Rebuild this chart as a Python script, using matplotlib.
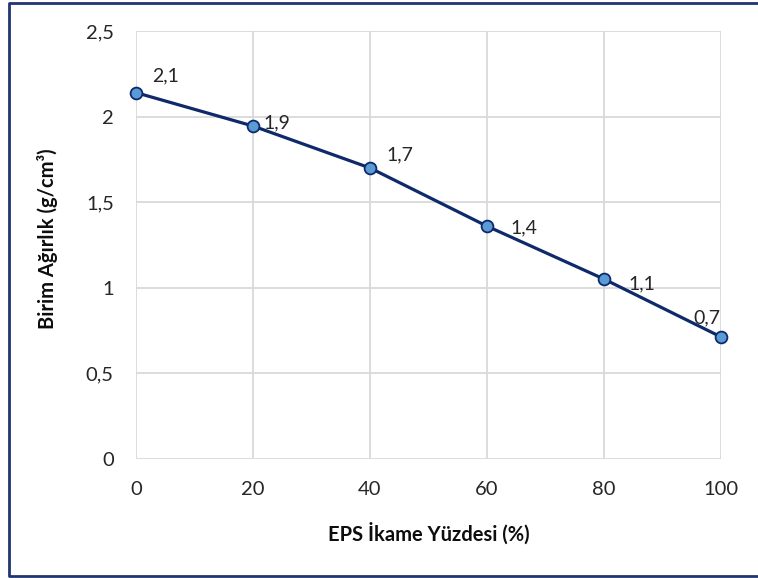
import matplotlib.pyplot as plt
from matplotlib.lines import Line2D

plt.rcParams['font.family'] = ['Lato', 'DejaVu Sans']

eps_pct = [0, 20, 40, 60, 80, 100]
unit_weight = [2.14, 1.945, 1.70, 1.36, 1.051, 0.713]
x_ticks = [0, 20, 40, 60, 80, 100]
y_ticks = [0, 0.5, 1, 1.5, 2, 2.5]

# label offsets in pixels (dx, dy) from each point, as placed in the original
label_offsets = [(16, 17), (10, 3), (16, 13), (23, -2), (24, -5), (-28, 19)]

fig = plt.figure(figsize=(7.58, 5.78), dpi=100)
ax = fig.add_axes([136 / 758, 119 / 578, 585 / 758, 428 / 578])

ax.plot(eps_pct, unit_weight, color='#0E2A6B', lw=2.3, marker='o', ms=8.5,
        mfc='#5B9BD5', mec='#0E2A6B', mew=1.3, zorder=3, clip_on=False)

for xv, yv, (dx, dy) in zip(eps_pct, unit_weight, label_offsets):
    ax.annotate(f"{yv:.1f}".replace('.', ','), (xv, yv), xytext=(dx, dy),
                textcoords='offset pixels', ha='left', va='center',
                fontsize=14, color='#262626')

ax.set_xlim(0, 100)
ax.set_ylim(0, 2.5)
ax.set_xticks(x_ticks)
ax.set_yticks(y_ticks)
ax.set_yticklabels([f"{v:g}".replace('.', ',') for v in y_ticks])
ax.grid(True, color='#D9D9D9', lw=1.3)
ax.set_axisbelow(True)
for s in ax.spines.values():
    s.set_visible(False)
ax.tick_params(length=0, labelsize=14.5, colors='#262626')
ax.tick_params(axis='x', pad=16)
ax.tick_params(axis='y', pad=16)

ax.set_xlabel('EPS İkame Yüzdesi (%)', fontsize=14.5, fontweight='bold',
              color='#0D0D0D')
ax.set_ylabel('Birim Ağırlık (g/cm³)', fontsize=14.5, fontweight='bold',
              color='#0D0D0D')
ax.xaxis.set_label_coords(0.5, -0.147)
ax.yaxis.set_label_coords(-0.133, 0.515)

# frame: top, left and bottom only (right side is cut off in the original)
bx0, by0, by1 = 8.5 / 758, 2.5 / 578, 575.5 / 578
fig.lines.append(Line2D([1.05, bx0, bx0, 1.05], [by1, by1, by0, by0],
                        transform=fig.transFigure, color='#1F3670', lw=2))

fig.savefig('out.png', dpi=100)
